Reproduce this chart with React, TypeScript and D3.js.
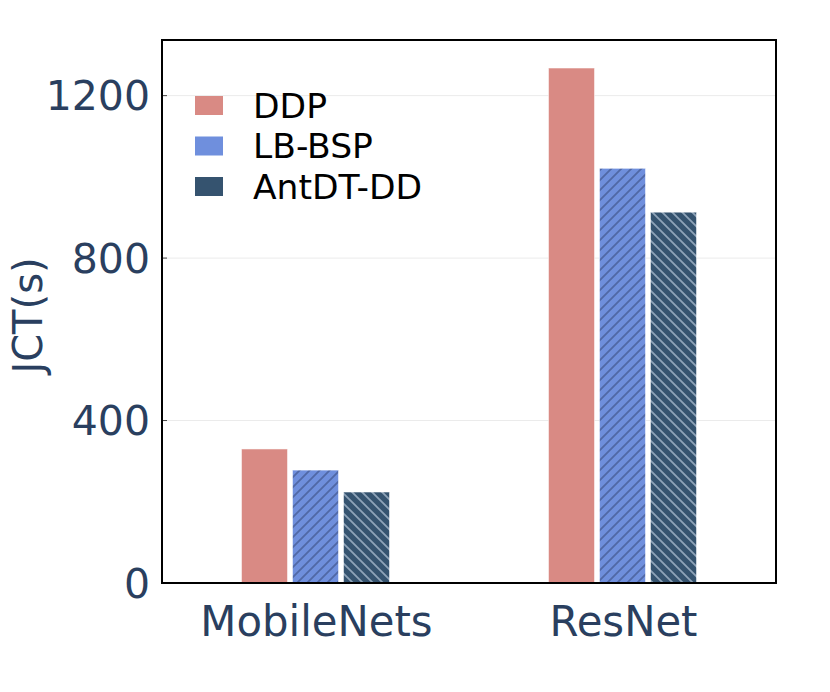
import * as d3 from 'd3';

const categories = ['MobileNets', 'ResNet'];
const seriesNames = ['DDP', 'LB-BSP', 'AntDT-DD'];
const ddp = [330, 1268];
const lbBsp = [278, 1021];
const antdt = [224, 913];
const yTicks = [0, 400, 800, 1200];

const W = 830;
const H = 692;
const left = 162;
const right = 776;
const top = 40;
const bottom = 583;

const colors = ['#d98a84', '#6f8fdd', '#35536f'];
const hatchColors = ['none', '#5068a6', '#8ea3b8'];

export default function App() {
  const values = [ddp, lbBsp, antdt];

  const y = d3.scaleLinear().domain([0, 1337]).range([bottom, top]);
  const x0 = d3.scaleBand<string>().domain(categories).range([left, right]).padding(0);
  const groupW = 153;
  const x1 = d3.scaleBand<string>().domain(seriesNames).range([0, groupW]).padding(0);
  const barW = x1.bandwidth() - 5;
  const p = 10;

  const fillFor = (i: number) => (i === 0 ? colors[0] : `url(#hatch-${i})`);

  return (
    <svg
      width={W}
      height={H}
      style={{ position: 'absolute', left: 0, top: 0, background: '#fff' }}
      fontFamily="'DejaVu Sans', sans-serif"
    >
      <defs>
        <pattern id="hatch-1" patternUnits="userSpaceOnUse" width={p} height={p}>
          <rect width={p} height={p} fill={colors[1]} />
          <path
            d={`M-2,2 L2,-2 M0,${p} L${p},0 M${p - 2},${p + 2} L${p + 2},${p - 2}`}
            stroke={hatchColors[1]}
            strokeWidth={1.8}
          />
        </pattern>
        <pattern id="hatch-2" patternUnits="userSpaceOnUse" width={p} height={p}>
          <rect width={p} height={p} fill={colors[2]} />
          <path
            d={`M-2,${p - 2} L2,${p + 2} M0,0 L${p},${p} M${p - 2},-2 L${p + 2},2`}
            stroke={hatchColors[2]}
            strokeWidth={1.8}
          />
        </pattern>
      </defs>

      {/* gridlines */}
      {yTicks.filter((t) => t > 0).map((t) => (
        <line key={t} x1={left} x2={right} y1={y(t)} y2={y(t)} stroke="#ebebeb" strokeWidth={1} />
      ))}

      {/* bars */}
      {categories.map((c, ci) => {
        const gx = x0(c)! + (x0.bandwidth() - groupW) / 2;
        return seriesNames.map((s, si) => {
          const v = values[si][ci];
          return (
            <rect
              key={c + s}
              x={gx + x1(s)! + 2.5}
              y={y(v)}
              width={barW}
              height={y(0) - y(v)}
              fill={fillFor(si)}
              stroke="#fff"
              strokeOpacity={0.5}
              strokeWidth={1}
            />
          );
        });
      })}

      {/* y ticks */}
      {yTicks.map((t) => (
        <g key={t}>
          <line x1={left} x2={left + 5} y1={y(t)} y2={y(t)} stroke="#444" strokeWidth={1} />
          <text x={150} y={y(t) + 14.5} textAnchor="end" fontSize={41} fill="#2a3f5f">
            {t}
          </text>
        </g>
      ))}

      {/* x labels */}
      {categories.map((c) => (
        <text key={c} x={x0(c)! + x0.bandwidth() / 2 + 1} y={636} textAnchor="middle" fontSize={41.8} fill="#2a3f5f">
          {c}
        </text>
      ))}

      {/* y title */}
      <text transform={`translate(42, ${(top + bottom) / 2 + 4}) rotate(-90)`} textAnchor="middle" fontSize={40} fill="#2a3f5f">
        JCT(s)
      </text>

      {/* frame */}
      <rect x={left} y={top} width={right - left} height={bottom - top} fill="none" stroke="#000" strokeWidth={2} />

      {/* legend */}
      {seriesNames.map((s, i) => (
        <g key={s} transform={`translate(195, ${96 + i * 40.5})`}>
          <rect width={28} height={19} fill={colors[i]} />
          <text x={58} y={21.5} fontSize={34.5} fill="#000">
            {s}
          </text>
        </g>
      ))}
    </svg>
  );
}
